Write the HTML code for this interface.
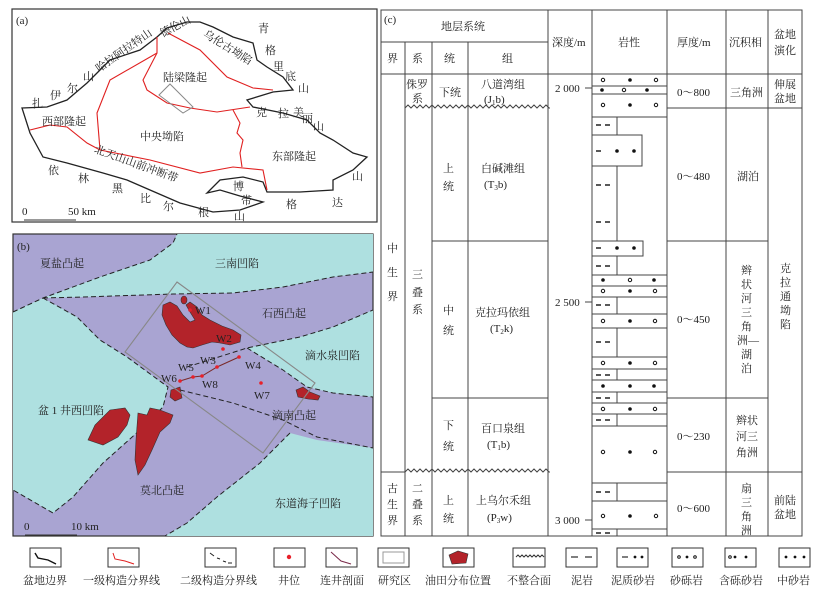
<!DOCTYPE html>
<html><head><meta charset="utf-8"><style>
html,body{margin:0;padding:0;background:#fff}
svg{display:block}
text{font-family:"Liberation Serif","Noto Serif CJK SC","Noto Sans CJK SC",serif;font-size:11px;fill:#222}
</style></head><body>
<svg width="818" height="600" viewBox="0 0 818 600" xmlns="http://www.w3.org/2000/svg">
<!-- Panel A -->
<rect x="12" y="9" width="365" height="213" fill="#fff" stroke="#333" stroke-width="1.2"/>
<text x="16" y="24">(a)</text>
<path d="M22,108 L47,107 L67,100 L87,83 L93,77 L110,60 L140,50 L157,37 L167,28 L187,22 L200,22 L213,27 L233,37 L253,43 L257,60 L267,67 L283,77 L293,90 L273,92 L247,100 L253,107 L283,113 L307,120 L320,133 L333,140 L353,153 L367,157 L353,170 L333,180 L333,190 L300,192 L267,192 L263,182 L243,177 L220,180 L207,193 L220,190 L240,196 L263,202 L240,210 L213,212 L180,203 L150,190 L127,180 L103,173 L67,163 L43,157 L30,133 Z" fill="none" stroke="#222" stroke-width="1.3"/>
<g fill="none" stroke="#e02020" stroke-width="1.1">
<path d="M157,37 L157,53 L143,80 L147,90 L167,103 L190,108 L217,112 L250,107"/>
<path d="M168,33 L200,50 L227,77 L253,88 L273,90"/>
<path d="M157,53 L110,80 L97,113 L100,150"/>
<path d="M30,130 L50,125 L67,127 L87,143 L100,150 L150,160 L200,173 L233,167 L263,170 L267,190"/>
<path d="M233,110 L240,123 L237,133 L243,140 L240,153 L242,167"/>
</g>
<polygon points="159,95 170,84 193,107 183,113" fill="none" stroke="#888" stroke-width="1"/>
<text x="88" y="62" transform="rotate(-35 110 50)">哈拉阿拉特山</text>
<text x="158" y="30" transform="rotate(-28 175 25)">德伦山</text>
<text x="195" y="48" transform="rotate(32 220 55)">乌伦古坳陷</text>
<text x="258" y="32">青</text><text x="265" y="54">格</text><text x="273" y="70">里</text><text x="285" y="80">底</text><text x="298" y="92">山</text>
<text x="163" y="81">陆梁隆起</text>
<text x="83" y="80">山</text><text x="67" y="92">尔</text><text x="50" y="99">伊</text><text x="32" y="107">扎</text>
<text x="42" y="125">西部隆起</text>
<text x="140" y="140">中央坳陷</text>
<text x="256" y="116">克</text><text x="278" y="117">拉</text><text x="293" y="116">美</text><text x="302" y="122">丽</text><text x="313" y="130">山</text>
<text x="272" y="160">东部隆起</text>
<text x="88" y="166" transform="rotate(20 130 175)">北天山山前冲断带</text>
<text x="48" y="174">依</text><text x="78" y="182">林</text><text x="112" y="192">黑</text><text x="140" y="202">比</text><text x="163" y="210">尔</text><text x="198" y="216">根</text><text x="234" y="220">山</text>
<text x="233" y="190">博</text><text x="241" y="204">带</text>
<text x="286" y="208">格</text><text x="332" y="206">达</text><text x="352" y="180">山</text>
<text x="22" y="215">0</text><text x="68" y="215">50 km</text>
<line x1="24" y1="220" x2="76" y2="220" stroke="#333"/>

<!-- Panel B -->
<rect x="13" y="234" width="360" height="302" fill="#a9a4d2" stroke="#333" stroke-width="1.2"/>
<polygon points="177,234 373,234 373,272 333,277 283,287 233,293 173,294 83,297 43,298 77,317 100,340 127,357 168,387 163,407 140,430 103,463 73,497 53,513 13,490 13,312 43,298 100,277 150,260 173,243" fill="#aee0e0"/>
<polygon points="247,348 300,337 333,327 373,310 373,397 333,393 307,387 283,370" fill="#aee0e0"/>
<polygon points="290,433 317,440 373,448 373,536 165,536 187,523 217,497 260,463" fill="#aee0e0"/>
<g fill="none" stroke="#222" stroke-width="1" stroke-dasharray="5,3">
<path d="M13,312 L43,298 L100,277 L150,260 L173,243 L177,234"/>
<path d="M43,298 L83,297 L173,294 L233,293 L283,287 L333,277 L373,272"/>
<path d="M43,298 L77,317 L100,340 L127,357 L168,387 L163,407 L140,430 L103,463 L73,497 L53,513 L13,490"/>
<path d="M187,367 L247,348 L300,337 L333,327 L373,310"/>
<path d="M247,348 L283,370 L307,387 L333,393 L373,397"/>
<path d="M180,390 L233,403 L283,420 L317,437 L373,448"/>
<path d="M290,433 L260,463 L217,497 L187,523 L165,536"/>
</g>
<g fill="#b3232a" stroke="#333" stroke-width="0.6">
<path d="M163,305 L170,302 L177,306 L183,315 L190,322 L195,320 L190,312 L186,305 L190,302 L197,307 L202,315 L210,320 L222,326 L233,330 L241,335 L240,342 L230,345 L220,343 L212,342 L202,345 L193,348 L187,347 L180,343 L172,335 L166,325 L162,315 Z"/>
<ellipse cx="184" cy="300" rx="3" ry="4"/>
<path d="M296,390 L303,387 L310,392 L320,396 L318,400 L308,399 L298,397 Z"/>
<path d="M171,390 L180,387 L182,398 L175,401 L170,397 Z"/>
<path d="M110,410 L125,408 L130,415 L127,425 L118,437 L103,445 L88,440 L95,425 Z"/>
<path d="M138,413 L147,415 L150,408 L160,410 L173,415 L170,423 L160,432 L152,450 L145,465 L138,475 L135,460 L136,440 Z"/>
</g>
<polygon points="177,282 315,383 263,453 125,352" fill="none" stroke="#888" stroke-width="1.1"/>
<polyline points="180,381 193,377 202,376 217,367 239,357" fill="none" stroke="#7a2a2a" stroke-width="1"/>
<g fill="#e8202a">
<circle cx="190" cy="310" r="1.8"/><circle cx="223" cy="349" r="1.8"/><circle cx="217" cy="367" r="1.8"/><circle cx="239" cy="357" r="1.8"/><circle cx="193" cy="377" r="1.8"/><circle cx="180" cy="381" r="1.8"/><circle cx="202" cy="376" r="1.8"/><circle cx="261" cy="383" r="1.8"/>
</g>
<text x="17" y="250">(b)</text>
<text x="40" y="267">夏盐凸起</text>
<text x="215" y="267">三南凹陷</text>
<text x="262" y="317">石西凸起</text>
<text x="305" y="359">滴水泉凹陷</text>
<text x="195" y="314">W1</text><text x="216" y="342">W2</text><text x="200" y="364">W3</text><text x="245" y="369">W4</text>
<text x="178" y="371">W5</text><text x="161" y="382">W6</text><text x="202" y="388">W8</text><text x="254" y="399">W7</text>
<text x="38" y="414">盆 1 井西凹陷</text>
<text x="272" y="419">滴南凸起</text>
<text x="140" y="494">莫北凸起</text>
<text x="275" y="507">东道海子凹陷</text>
<text x="24" y="530">0</text><text x="71" y="530">10 km</text>
<line x1="25" y1="535" x2="77" y2="535" stroke="#333"/>

<!-- Panel C table -->
<g stroke="#444" stroke-width="1" fill="none">
<rect x="381" y="10" width="421" height="526"/>
<line x1="381" y1="42" x2="548" y2="42"/>
<line x1="381" y1="74" x2="802" y2="74"/>
<line x1="405" y1="42" x2="405" y2="536"/>
<line x1="432" y1="42" x2="432" y2="536"/>
<line x1="468" y1="42" x2="468" y2="536"/>
<line x1="548" y1="10" x2="548" y2="536"/>
<line x1="592" y1="10" x2="592" y2="536"/>
<line x1="667" y1="10" x2="667" y2="536"/>
<line x1="726" y1="10" x2="726" y2="536"/>
<line x1="768" y1="10" x2="768" y2="536"/>
<line x1="432" y1="241" x2="548" y2="241"/>
<line x1="432" y1="398" x2="548" y2="398"/>
<line x1="381" y1="472" x2="405" y2="472"/>
<line x1="667" y1="108" x2="802" y2="108"/>
<line x1="667" y1="241" x2="768" y2="241"/>
<line x1="667" y1="398" x2="768" y2="398"/>
<line x1="667" y1="472" x2="802" y2="472"/>
<path d="M405,108 l3,-3 3,3 3,-3 3,3 3,-3 3,3 3,-3 3,3 3,-3 3,3 3,-3 3,3 3,-3 3,3 3,-3 3,3 3,-3 3,3 3,-3 3,3 3,-3 3,3 3,-3 3,3 3,-3 3,3 3,-3 3,3 3,-3 3,3 3,-3 3,3 3,-3 3,3 3,-3 3,3 3,-3 3,3 3,-3 3,3 3,-3 3,3 3,-3 3,3 3,-3 3,3 3,-3 3,3 1,0"/>
<path d="M405,472 l3,-3 3,3 3,-3 3,3 3,-3 3,3 3,-3 3,3 3,-3 3,3 3,-3 3,3 3,-3 3,3 3,-3 3,3 3,-3 3,3 3,-3 3,3 3,-3 3,3 3,-3 3,3 3,-3 3,3 3,-3 3,3 3,-3 3,3 3,-3 3,3 3,-3 3,3 3,-3 3,3 3,-3 3,3 3,-3 3,3 3,-3 3,3 3,-3 3,3 3,-3 3,3 3,-3 3,3 1,0"/>
<!-- lithology -->
<path d="M592,74 H667 V117 H592 M592,86 H667 M592,94 H667"/>
<path d="M617,117 V135 M617,166 V241 M592,135 H642 V166 H592"/>
<path d="M592,241 H643 V256 H592 M617,256 V275"/>
<path d="M592,275 H667 M592,286 H667 M592,297 H667 M617,297 V314 M592,314 H667 M592,328 H667 M617,328 V357 M592,357 H667 M592,369 H667 M617,369 V380 M592,380 H667 M592,392 H667 M617,392 V403 M592,403 H667 M592,414 H667 M617,414 V426 M592,426 H667 V483 M592,483 H667 M617,483 V501 M592,501 H667 V529 M592,529 H667 M617,529 V536"/>
<line x1="585" y1="88" x2="592" y2="88"/><line x1="585" y1="302" x2="592" y2="302"/><line x1="585" y1="520" x2="592" y2="520"/>
</g>
<g stroke="#222" stroke-width="1.4">
<path d="M596,125 h5 M605,125 h5 M596,185 h5 M605,185 h5 M596,222 h5 M605,222 h5 M596,151 h5 M596,248 h5 M596,266 h5 M605,266 h5 M596,305 h5 M605,305 h5 M596,342 h5 M605,342 h5 M596,375 h5 M605,375 h5 M596,398 h5 M605,398 h5 M596,420 h5 M605,420 h5 M596,492 h5 M605,492 h5 M596,533 h5 M605,533 h5"/>
</g>
<g fill="#111">
<circle cx="630" cy="80" r="1.8"/><circle cx="602" cy="90" r="1.8"/><circle cx="647" cy="90" r="1.8"/><circle cx="630" cy="105" r="1.8"/>
<circle cx="617" cy="151" r="1.8"/><circle cx="634" cy="151" r="1.8"/><circle cx="617" cy="248" r="1.8"/><circle cx="634" cy="248" r="1.8"/>
<circle cx="603" cy="280" r="1.8"/><circle cx="654" cy="280" r="1.8"/><circle cx="630" cy="291" r="1.8"/><circle cx="630" cy="321" r="1.8"/>
<circle cx="630" cy="363" r="1.8"/><circle cx="603" cy="386" r="1.8"/><circle cx="630" cy="386" r="1.8"/><circle cx="654" cy="386" r="1.8"/>
<circle cx="630" cy="409" r="1.8"/><circle cx="630" cy="452" r="1.8"/><circle cx="630" cy="516" r="1.8"/>
</g>
<g fill="none" stroke="#111" stroke-width="1">
<circle cx="603" cy="80" r="1.7"/><circle cx="656" cy="80" r="1.7"/><circle cx="624" cy="90" r="1.7"/><circle cx="603" cy="105" r="1.7"/><circle cx="656" cy="105" r="1.7"/>
<circle cx="630" cy="280" r="1.7"/><circle cx="603" cy="291" r="1.7"/><circle cx="655" cy="291" r="1.7"/><circle cx="603" cy="321" r="1.7"/><circle cx="655" cy="321" r="1.7"/>
<circle cx="603" cy="363" r="1.7"/><circle cx="655" cy="363" r="1.7"/><circle cx="603" cy="409" r="1.7"/><circle cx="655" cy="409" r="1.7"/>
<circle cx="603" cy="452" r="1.7"/><circle cx="655" cy="452" r="1.7"/><circle cx="603" cy="516" r="1.7"/><circle cx="656" cy="516" r="1.7"/>
</g>
<text x="384" y="23">(c)</text>
<text x="441" y="30">地层系统</text>
<text x="387" y="62">界</text><text x="412" y="62">系</text><text x="444" y="62">统</text><text x="502" y="62">组</text>
<text x="552" y="46">深度/m</text><text x="618" y="46">岩性</text><text x="677" y="46">厚度/m</text><text x="729" y="46">沉积相</text>
<text x="774" y="38">盆地</text><text x="774" y="54">演化</text>
<text x="406" y="88">侏罗</text><text x="412" y="102">系</text><text x="439" y="96">下统</text>
<text x="481" y="88">八道湾组</text><text x="484" y="103">(J<tspan font-size="7" dy="2">1</tspan><tspan dy="-2">b)</tspan></text>
<text x="443" y="172">上</text><text x="443" y="190">统</text>
<text x="481" y="172">白碱滩组</text><text x="484" y="188">(T<tspan font-size="7" dy="2">3</tspan><tspan dy="-2">b)</tspan></text>
<text x="443" y="314">中</text><text x="443" y="334">统</text>
<text x="475" y="316">克拉玛依组</text><text x="490" y="332">(T<tspan font-size="7" dy="2">2</tspan><tspan dy="-2">k)</tspan></text>
<text x="443" y="429">下</text><text x="443" y="450">统</text>
<text x="481" y="432">百口泉组</text><text x="487" y="448">(T<tspan font-size="7" dy="2">1</tspan><tspan dy="-2">b)</tspan></text>
<text x="443" y="504">上</text><text x="443" y="522">统</text>
<text x="476" y="504">上乌尔禾组</text><text x="487" y="521">(P<tspan font-size="7" dy="2">3</tspan><tspan dy="-2">w)</tspan></text>
<text x="387" y="252">中</text><text x="387" y="276">生</text><text x="387" y="300">界</text>
<text x="387" y="492">古</text><text x="387" y="508">生</text><text x="387" y="524">界</text>
<text x="412" y="278">三</text><text x="412" y="296">叠</text><text x="412" y="313">系</text>
<text x="412" y="492">二</text><text x="412" y="508">叠</text><text x="412" y="524">系</text>
<text x="555" y="92">2 000</text><text x="555" y="306">2 500</text><text x="555" y="524">3 000</text>
<text x="677" y="96">0～800</text><text x="677" y="180">0～480</text><text x="677" y="323">0～450</text><text x="677" y="440">0～230</text><text x="677" y="512">0～600</text>
<text x="730" y="96">三角洲</text><text x="737" y="180">湖泊</text>
<text x="741" y="274">辫</text><text x="741" y="288">状</text><text x="741" y="302">河</text><text x="741" y="316">三</text><text x="741" y="330">角</text><text x="737" y="344">洲—</text><text x="741" y="358">湖</text><text x="741" y="372">泊</text>
<text x="736" y="424">辫状</text><text x="736" y="440">河三</text><text x="736" y="456">角洲</text>
<text x="741" y="492">扇</text><text x="741" y="506">三</text><text x="741" y="520">角</text><text x="741" y="534">洲</text>
<text x="774" y="88">伸展</text><text x="774" y="102">盆地</text>
<text x="780" y="272">克</text><text x="780" y="286">拉</text><text x="780" y="300">通</text><text x="780" y="314">坳</text><text x="780" y="328">陷</text>
<text x="774" y="504">前陆</text><text x="774" y="518">盆地</text>

<!-- Legend -->
<g fill="#fff" stroke="#333" stroke-width="1">
<rect x="30" y="548" width="31" height="19"/><rect x="108" y="548" width="31" height="19"/><rect x="205" y="548" width="31" height="19"/>
<rect x="274" y="548" width="31" height="19"/><rect x="326" y="548" width="31" height="19"/><rect x="378" y="548" width="31" height="19"/>
<rect x="443" y="548" width="31" height="19"/><rect x="513" y="548" width="32" height="19"/><rect x="566" y="548" width="31" height="19"/>
<rect x="617" y="548" width="31" height="19"/><rect x="672" y="548" width="31" height="19"/><rect x="725" y="548" width="31" height="19"/><rect x="779" y="548" width="31" height="19"/>
</g>
<path d="M35,553 L38,558 L48,560 L56,564" fill="none" stroke="#111" stroke-width="1.4"/>
<path d="M113,553 L115,559 L125,561 L134,564" fill="none" stroke="#e02020" stroke-width="1"/>
<path d="M210,553 l4,3 M217,558 l3,1 M223,561 l3,1 M228,563 h4" fill="none" stroke="#222"/>
<circle cx="289" cy="557" r="2.2" fill="#e8202a"/>
<path d="M331,552 L341,561 L351,564" fill="none" stroke="#7a2a4a"/>
<rect x="383" y="552" width="21" height="11" fill="none" stroke="#999"/>
<polygon points="449,555 458,551 468,554 466,563 452,564" fill="#b3232a" stroke="#333" stroke-width="0.6"/>
<path d="M516,557 l2,-2 2,2 2,-2 2,2 2,-2 2,2 2,-2 2,2 2,-2 2,2 2,-2 2,2 2,-2 2,2" fill="none" stroke="#333"/>
<path d="M571,557 h7 M585,557 h7 M622,557 h6" stroke="#333" stroke-width="1.3"/>
<g fill="#111"><circle cx="635" cy="557" r="1.4"/><circle cx="642" cy="557" r="1.4"/><circle cx="687" cy="557" r="1.4"/><circle cx="735" cy="557" r="1.4"/><circle cx="746" cy="557" r="1.4"/><circle cx="786" cy="557" r="1.4"/><circle cx="795" cy="557" r="1.4"/><circle cx="804" cy="557" r="1.4"/></g>
<g fill="none" stroke="#111"><circle cx="679" cy="557" r="1.3"/><circle cx="695" cy="557" r="1.3"/><circle cx="730" cy="557" r="1.3"/></g>
<text x="23" y="584">盆地边界</text><text x="83" y="584">一级构造分界线</text><text x="180" y="584">二级构造分界线</text>
<text x="278" y="584">井位</text><text x="320" y="584">连井剖面</text><text x="378" y="584">研究区</text><text x="425" y="584">油田分布位置</text>
<text x="507" y="584">不整合面</text><text x="571" y="584">泥岩</text><text x="611" y="584">泥质砂岩</text><text x="670" y="584">砂砾岩</text><text x="719" y="584">含砾砂岩</text><text x="777" y="584">中砂岩</text>
</svg>
</body></html>
